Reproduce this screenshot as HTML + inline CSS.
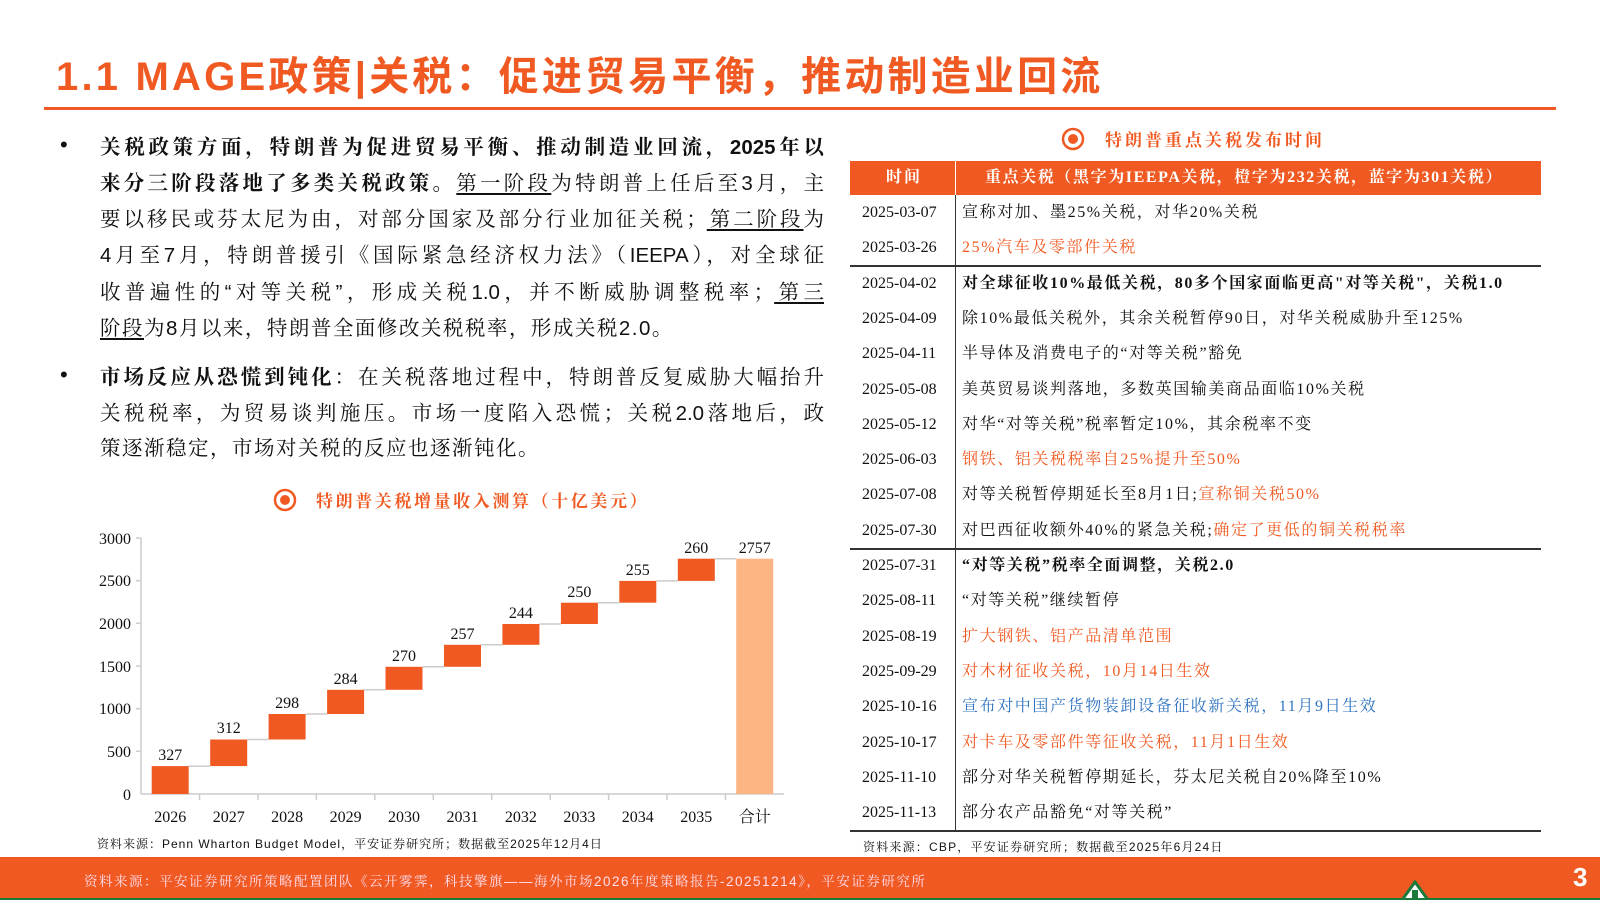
<!DOCTYPE html>
<html><head><meta charset="utf-8">
<style>
*{margin:0;padding:0;box-sizing:border-box}
body{width:1600px;height:900px;position:relative;background:#fff;overflow:hidden;font-family:"Liberation Sans","Noto Serif CJK SC",serif;color:#111}
.a{position:absolute;white-space:nowrap}
.title{left:56px;top:44px;font-size:40px;font-weight:bold;color:#F05A22;font-family:"Liberation Sans","Noto Sans CJK SC",sans-serif;letter-spacing:3.2px}
.ln{position:absolute;left:100px;width:724px;font-size:20.5px;line-height:28px;text-align:justify;text-align-last:justify;white-space:nowrap}
.ln.nj{text-align-last:left}
.bul{position:absolute;left:60px;font-size:22px}
.o{color:#F05A22}.bl{color:#2F74C0}
u{text-underline-offset:3px}
.row{position:absolute;left:850px;width:691px;height:35.3px;font-size:16px;line-height:35.3px;font-family:"Liberation Serif","Noto Serif CJK SC",serif}
.row .d{position:absolute;left:12px}
.row .c{position:absolute;left:112px;white-space:nowrap;letter-spacing:1.6px}
</style></head><body>
<div class="a title">1.1 MAGE政策|关税：促进贸易平衡，推动制造业回流</div>
<div class="a" style="left:44px;top:107px;width:1512px;height:3px;background:#F05A22"></div>

<div class="bul" style="top:132px">•</div>
<div class="ln" style="top:134px"><b>关税政策方面，特朗普为促进贸易平衡、推动制造业回流，2025年以</b></div>
<div class="ln" style="top:170px"><b>来分三阶段落地了多类关税政策。</b><u>第一阶段</u>为特朗普上任后至3月，主</div>
<div class="ln" style="top:206px">要以移民或芬太尼为由，对部分国家及部分行业加征关税；<u>第二阶段</u>为</div>
<div class="ln" style="top:242px">4月至7月，特朗普援引《国际紧急经济权力法》（IEEPA），对全球征</div>
<div class="ln" style="top:279px">收普遍性的“对等关税”，形成关税1.0，并不断威胁调整税率；<u>第三</u></div>
<div class="ln nj" style="top:315px;letter-spacing:1.5px"><u>阶段</u>为8月以来，特朗普全面修改关税税率，形成关税2.0。</div>
<div class="bul" style="top:362px">•</div>
<div class="ln" style="top:364px"><b>市场反应从恐慌到钝化</b>：在关税落地过程中，特朗普反复威胁大幅抬升</div>
<div class="ln" style="top:400px">关税税率，为贸易谈判施压。市场一度陷入恐慌；关税2.0落地后，政</div>
<div class="ln nj" style="top:435px;letter-spacing:1.5px">策逐渐稳定，市场对关税的反应也逐渐钝化。</div>

<svg class="a" style="left:0;top:0" width="1600" height="900" font-family="Liberation Serif, Noto Serif CJK SC, serif">
<circle cx="285" cy="500" r="10" fill="none" stroke="#F05A22" stroke-width="2.5"/><circle cx="285" cy="500" r="5" fill="#F05A22"/>
<text x="316" y="507" font-size="17" font-weight="bold" fill="#F05A22" letter-spacing="2.6">特朗普关税增量收入测算（十亿美元）</text>
<circle cx="1073" cy="139" r="10" fill="none" stroke="#F05A22" stroke-width="2.5"/><circle cx="1073" cy="139" r="5" fill="#F05A22"/>
<text x="1105" y="146" font-size="17" font-weight="bold" fill="#F05A22" letter-spacing="3">特朗普重点关税发布时间</text>
<g stroke="#ccc" stroke-width="1.5">
<line x1="141" y1="538" x2="141" y2="794"/><line x1="141" y1="794" x2="784" y2="794"/>
<line x1="136" y1="538" x2="141" y2="538"/><line x1="136" y1="580.7" x2="141" y2="580.7"/><line x1="136" y1="623.3" x2="141" y2="623.3"/><line x1="136" y1="666" x2="141" y2="666"/><line x1="136" y1="708.7" x2="141" y2="708.7"/><line x1="136" y1="751.3" x2="141" y2="751.3"/>
<line x1="199.5" y1="794" x2="199.5" y2="800"/><line x1="258" y1="794" x2="258" y2="800"/><line x1="316.4" y1="794" x2="316.4" y2="800"/><line x1="374.8" y1="794" x2="374.8" y2="800"/><line x1="433.3" y1="794" x2="433.3" y2="800"/><line x1="491.7" y1="794" x2="491.7" y2="800"/><line x1="550.2" y1="794" x2="550.2" y2="800"/><line x1="608.6" y1="794" x2="608.6" y2="800"/><line x1="667" y1="794" x2="667" y2="800"/><line x1="725.5" y1="794" x2="725.5" y2="800"/>
<line x1="188.7" y1="766.1" x2="210.2" y2="766.1"/><line x1="247.2" y1="739.5" x2="268.6" y2="739.5"/><line x1="305.6" y1="714" x2="327.1" y2="714"/><line x1="364.1" y1="689.8" x2="385.5" y2="689.8"/><line x1="422.5" y1="666.8" x2="444" y2="666.8"/><line x1="481" y1="644.8" x2="502.4" y2="644.8"/><line x1="539.4" y1="624" x2="560.9" y2="624"/><line x1="597.9" y1="602.7" x2="619.3" y2="602.7"/><line x1="656.3" y1="580.9" x2="677.8" y2="580.9"/><line x1="714.8" y1="558.7" x2="736.2" y2="558.7"/>
</g>
<g fill="#F05A22">
<rect x="151.7" y="766.1" width="37" height="27.9"/><rect x="210.2" y="739.5" width="37" height="26.6"/><rect x="268.6" y="714" width="37" height="25.5"/><rect x="327.1" y="689.8" width="37" height="24.2"/><rect x="385.5" y="666.8" width="37" height="23"/><rect x="444" y="644.8" width="37" height="22"/><rect x="502.4" y="624" width="37" height="20.8"/><rect x="560.9" y="602.7" width="37" height="21.3"/><rect x="619.3" y="580.9" width="37" height="21.8"/><rect x="677.8" y="558.7" width="37" height="22.2"/>
</g>
<rect x="736.2" y="558.7" width="37" height="235.3" fill="#FDB583"/>
<g font-size="16" fill="#111" text-anchor="middle">
<text x="170.2" y="760">327</text><text x="228.7" y="733">312</text><text x="287.1" y="708">298</text><text x="345.6" y="684">284</text><text x="404" y="661">270</text><text x="462.5" y="639">257</text><text x="520.9" y="618">244</text><text x="579.4" y="597">250</text><text x="637.8" y="575">255</text><text x="696.3" y="553">260</text><text x="754.7" y="553">2757</text>
<text x="170.2" y="822">2026</text><text x="228.7" y="822">2027</text><text x="287.1" y="822">2028</text><text x="345.6" y="822">2029</text><text x="404" y="822">2030</text><text x="462.5" y="822">2031</text><text x="520.9" y="822">2032</text><text x="579.4" y="822">2033</text><text x="637.8" y="822">2034</text><text x="696.3" y="822">2035</text><text x="754.7" y="822">合计</text>
</g>
<g font-size="16" fill="#111" text-anchor="end">
<text x="131" y="544">3000</text><text x="131" y="586">2500</text><text x="131" y="629">2000</text><text x="131" y="672">1500</text><text x="131" y="714">1000</text><text x="131" y="757">500</text><text x="131" y="800">0</text>
</g>
</svg>
<div class="a" style="left:97px;top:835px;font-size:12px;letter-spacing:1px">资料来源：Penn Wharton Budget Model，平安证券研究所；数据截至2025年12月4日</div>

<div class="a" style="left:850px;top:161px;width:691px;height:34px;background:#F05A22;color:#fff;font-weight:bold;font-size:16px;line-height:34px;font-family:'Liberation Serif','Noto Serif CJK SC',serif">
<span class="a" style="left:36px;letter-spacing:2px">时间</span><span class="a" style="left:135px;letter-spacing:1.6px">重点关税（黑字为IEEPA关税，橙字为232关税，蓝字为301关税）</span></div>
<div class="a" style="left:955px;top:161px;width:1px;height:670px;background:#333"></div>
<div class="a" style="left:955px;top:161px;width:1px;height:34px;background:#fff"></div>
<div class="a" style="left:850px;top:265px;width:691px;height:1.5px;background:#333"></div>
<div class="a" style="left:850px;top:548px;width:691px;height:1.5px;background:#333"></div>
<div class="a" style="left:850px;top:830px;width:691px;height:2px;background:#333"></div>

<div class="row" style="top:195px"><span class="d">2025-03-07</span><span class="c">宣称对加、墨25%关税，对华20%关税</span></div>
<div class="row" style="top:230.3px"><span class="d">2025-03-26</span><span class="c o">25%汽车及零部件关税</span></div>
<div class="row" style="top:265.6px"><span class="d">2025-04-02</span><span class="c"><b>对全球征收10%最低关税，80多个国家面临更高"对等关税"，关税1.0</b></span></div>
<div class="row" style="top:300.9px"><span class="d">2025-04-09</span><span class="c">除10%最低关税外，其余关税暂停90日，对华关税威胁升至125%</span></div>
<div class="row" style="top:336.2px"><span class="d">2025-04-11</span><span class="c">半导体及消费电子的“对等关税”豁免</span></div>
<div class="row" style="top:371.5px"><span class="d">2025-05-08</span><span class="c">美英贸易谈判落地，多数英国输美商品面临10%关税</span></div>
<div class="row" style="top:406.8px"><span class="d">2025-05-12</span><span class="c">对华“对等关税”税率暂定10%，其余税率不变</span></div>
<div class="row" style="top:442.1px"><span class="d">2025-06-03</span><span class="c o">钢铁、铝关税税率自25%提升至50%</span></div>
<div class="row" style="top:477.4px"><span class="d">2025-07-08</span><span class="c">对等关税暂停期延长至8月1日;<span class="o">宣称铜关税50%</span></span></div>
<div class="row" style="top:512.7px"><span class="d">2025-07-30</span><span class="c">对巴西征收额外40%的紧急关税;<span class="o">确定了更低的铜关税税率</span></span></div>
<div class="row" style="top:548px"><span class="d">2025-07-31</span><span class="c"><b>“对等关税”税率全面调整，关税2.0</b></span></div>
<div class="row" style="top:583.3px"><span class="d">2025-08-11</span><span class="c">“对等关税”继续暂停</span></div>
<div class="row" style="top:618.6px"><span class="d">2025-08-19</span><span class="c o">扩大钢铁、铝产品清单范围</span></div>
<div class="row" style="top:653.9px"><span class="d">2025-09-29</span><span class="c o">对木材征收关税，10月14日生效</span></div>
<div class="row" style="top:689.2px"><span class="d">2025-10-16</span><span class="c bl">宣布对中国产货物装卸设备征收新关税，11月9日生效</span></div>
<div class="row" style="top:724.5px"><span class="d">2025-10-17</span><span class="c o">对卡车及零部件等征收关税，11月1日生效</span></div>
<div class="row" style="top:759.8px"><span class="d">2025-11-10</span><span class="c">部分对华关税暂停期延长，芬太尼关税自20%降至10%</span></div>
<div class="row" style="top:795.1px"><span class="d">2025-11-13</span><span class="c">部分农产品豁免“对等关税”</span></div>
<div class="a" style="left:863px;top:838px;font-size:12px;letter-spacing:1.2px">资料来源：CBP，平安证券研究所；数据截至2025年6月24日</div>

<div class="a" style="left:0;top:857px;width:1600px;height:43px;background:#F05A22"></div>
<div class="a" style="left:84px;top:870px;font-size:13.5px;color:#fde;letter-spacing:1.5px">资料来源：平安证券研究所策略配置团队《云开雾霁，科技擎旗——海外市场2026年度策略报告-20251214》，平安证券研究所</div>
<div class="a" style="left:1573px;top:862px;font-size:26px;font-weight:bold;color:#fff">3</div>
<svg class="a" style="left:1400px;top:880px" width="30" height="20"><polygon points="15,2 28,20 2,20" fill="#fff" stroke="#1a7a3a" stroke-width="3"/><rect x="12" y="10" width="6" height="10" fill="#1a7a3a"/></svg>
<div class="a" style="left:0;top:898px;width:1600px;height:2px;background:#1a7a3a"></div>
</body></html>
